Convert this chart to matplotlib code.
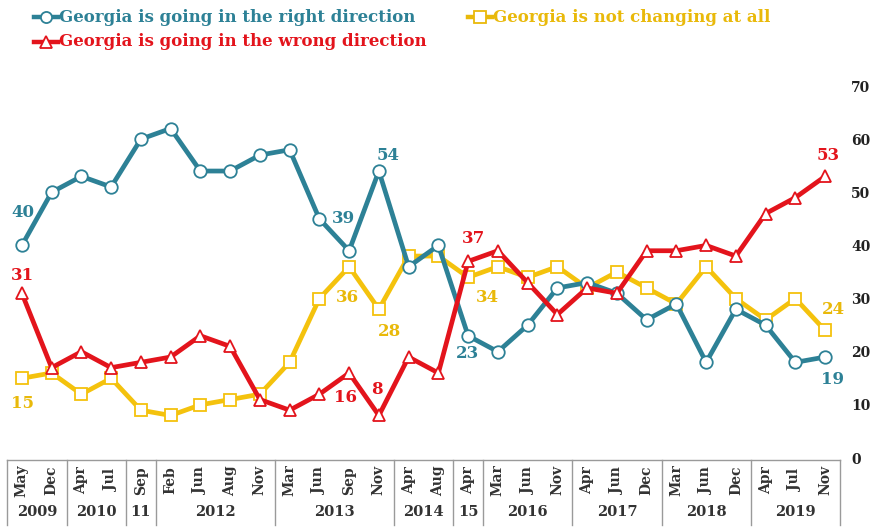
import matplotlib
matplotlib.use('Agg')
import matplotlib.pyplot as plt
from matplotlib.lines import Line2D
import matplotlib.transforms as mtransforms

months = ["May", "Dec", "Apr", "Jul", "Sep", "Feb", "Jun", "Aug", "Nov",
          "Mar", "Jun", "Sep", "Nov", "Apr", "Aug", "Apr", "Mar", "Jun", "Nov",
          "Apr", "Jun", "Dec", "Mar", "Jun", "Dec", "Apr", "Jul", "Nov"]
years = ["2009", "2010", "11", "2012", "2013", "2014", "15", "2016", "2017", "2018", "2019"]
year_sizes = [2, 2, 1, 4, 4, 2, 1, 3, 3, 3, 3]

right_dir = [40, 50, 53, 51, 60, 62, 54, 54, 57, 58, 45, 39, 54, 36, 40,
             23, 20, 25, 32, 33, 31, 26, 29, 18, 28, 25, 18, 19]
wrong_dir = [31, 17, 20, 17, 18, 19, 23, 21, 11, 9, 12, 16, 8, 19, 16,
             37, 39, 33, 27, 32, 31, 39, 39, 40, 38, 46, 49, 53]
no_change = [15, 16, 12, 15, 9, 8, 10, 11, 12, 18, 30, 36, 28, 38, 38,
             34, 36, 34, 36, 32, 35, 32, 29, 36, 30, 26, 30, 24]

TEAL = '#2d8196'
RED = '#e3141c'
YELLOW = '#f4c20d'
YELLOW_TXT = '#e9b90a'
FONT = 'DejaVu Serif'

W, H = 872, 529
fig = plt.figure(figsize=(W / 100, H / 100), dpi=100)
ax = fig.add_axes([7 / W, (H - 458) / H, 833 / W, 372 / H])

x = list(range(len(months)))
common = dict(linewidth=3.4, markersize=9, markerfacecolor='white', markeredgewidth=1.3, clip_on=False)
ax.plot(x, no_change, color=YELLOW, marker='s', markeredgecolor=YELLOW, zorder=3, **common)
ax.plot(x, right_dir, color=TEAL, marker='o', markeredgecolor=TEAL, zorder=4, **common)
ax.plot(x, wrong_dir, color=RED, marker='^', markeredgecolor=RED, zorder=5, **common)

ax.set_xlim(-0.5, len(months) - 0.5)
ax.set_ylim(0, 70)
ax.set_xticks([])
ax.yaxis.tick_right()
ax.set_yticks(range(0, 71, 10))
ax.tick_params(axis='y', length=0, pad=8, labelsize=10, labelcolor='#222222')
for lab in ax.get_yticklabels():
    lab.set_fontweight('bold')
    lab.set_family(FONT)
for s in ax.spines.values():
    s.set_visible(False)

# data labels: (series, index, dx, dy in pixels, color)
labels = [
    (right_dir, 0, 1, 33, TEAL), (right_dir, 11, -6, 32, TEAL), (right_dir, 12, 9, 16, TEAL),
    (right_dir, 15, -1, -18, TEAL), (right_dir, 27, 7, -22, TEAL),
    (wrong_dir, 0, 1, 18, RED), (wrong_dir, 11, -4, -25, RED), (wrong_dir, 12, -2, 26, RED),
    (wrong_dir, 15, 5, 23, RED), (wrong_dir, 27, 3, 21, RED),
    (no_change, 0, 1, -25, YELLOW_TXT), (no_change, 11, -2, -31, YELLOW_TXT),
    (no_change, 12, 11, -22, YELLOW_TXT), (no_change, 15, 19, -20, YELLOW_TXT),
    (no_change, 27, 8, 21, YELLOW_TXT),
]
for series, i, dx, dy, c in labels:
    ax.annotate(str(series[i]), (i, series[i]), xytext=(dx, dy), textcoords='offset pixels',
                ha='center', va='center', color=c, fontsize=12, fontweight='bold',
                family=FONT, annotation_clip=False)

# category table below the plot
trans = mtransforms.blended_transform_factory(ax.transData, ax.transAxes)
ax.plot([-0.5, len(months) - 0.5], [-0.005, -0.005], transform=trans, color='#9a9a9a',
        linewidth=1, clip_on=False)
for i, m in enumerate(months):
    ax.text(i, -0.06, m, transform=trans, rotation=90, ha='center', va='center',
            fontsize=10, fontweight='bold', family=FONT, color='#333333')
start = 0
bounds = [-0.5]
for y, n in zip(years, year_sizes):
    ax.text(start + (n - 1) / 2, -0.145, y, transform=trans, ha='center', va='center',
            fontsize=10.5, fontweight='bold', family=FONT, color='#333333')
    start += n
    bounds.append(start - 0.5)
for b in bounds:
    ax.plot([b, b], [-0.005, -0.18], transform=trans, color='#9a9a9a', linewidth=1, clip_on=False)

# legend drawn by hand
def legend_item(x0, ypix, color, marker, text):
    yf = 1 - ypix / H
    fig.add_artist(Line2D([x0 / W, (x0 + 24) / W], [yf, yf], color=color, linewidth=3.2))
    fig.add_artist(Line2D([(x0 + 12) / W], [yf], color=color, marker=marker, markersize=8,
                          markerfacecolor='white', markeredgecolor=color, markeredgewidth=1.3))
    fig.text((x0 + 25) / W, yf, text, color=color, fontsize=12, fontweight='bold',
             family=FONT, va='center', ha='left')

legend_item(34, 17, TEAL, 'o', 'Georgia is going in the right direction')
legend_item(34, 42, RED, '^', 'Georgia is going in the wrong direction')
legend_item(468, 17, YELLOW_TXT, 's', 'Georgia is not changing at all')

fig.savefig('out.png', dpi=100)
